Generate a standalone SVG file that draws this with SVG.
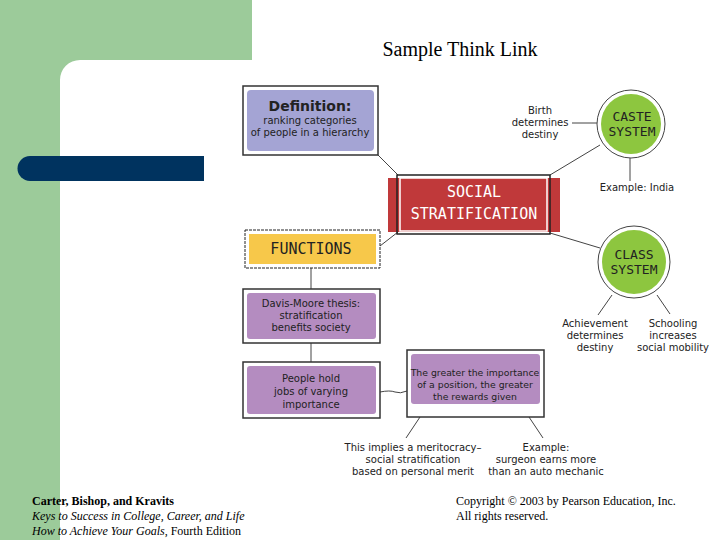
<svg xmlns="http://www.w3.org/2000/svg" width="720" height="540" viewBox="0 0 720 540">
<style>
.h{font-family:"DejaVu Sans","Noto Sans",sans-serif;fill:#222;font-size:10px;text-anchor:middle}
.t{font-family:"Liberation Serif",serif;fill:#000;font-size:12px}
.big{font-family:"DejaVu Sans Mono",monospace;text-anchor:middle;font-size:15px}
.cs{font-size:13px}
.frame{fill:#fff;stroke:#333;stroke-width:1.5}
.ln{stroke:#444;stroke-width:1;fill:none}
</style>
<rect width="720" height="540" fill="#fff"/>
<path d="M0 0H252V60H80A20 20 0 0 0 60 80V540H0Z" fill="#9ccb9a"/>
<path d="M30 156H204V181H30A12.5 12.5 0 0 1 30 156Z" fill="#00335f"/>
<text class="t" x="460" y="56" text-anchor="middle" style="font-size:20px">Sample Think Link</text>
<g id="connectors" class="ln">
<path d="M378 155L398 175"/>
<path d="M380 246L398 232"/>
<path d="M550 175L600 145"/>
<path d="M550 233L600 248"/>
<path d="M572 123H597"/>
<path d="M630 158V181"/>
<path d="M612 295L598 315"/>
<path d="M657 295L670 314"/>
<path d="M311 268V289"/>
<path d="M311 343V362"/>
<path d="M380 392Q390 390 395 392T407 391"/>
<path d="M420 417L406 438"/>
<path d="M529 417L543 438"/>
</g>
<g id="definition">
<rect class="frame" x="243" y="86" width="135" height="69"/>
<rect x="247" y="90" width="127" height="61" rx="4" fill="#a4a4d4"/>
<text class="h" x="310" y="111" style="font-size:14px;font-weight:bold">Definition:</text>
<text class="h" x="310" y="124">ranking categories</text>
<text class="h" x="310" y="136">of people in a hierarchy</text>
</g>
<g id="social">
<rect x="388" y="178" width="172" height="54" fill="#c0393a"/>
<rect x="397" y="175" width="153" height="59" fill="none" stroke="#222" stroke-width="1.5"/>
<rect x="400" y="178" width="147" height="53" fill="#c0393a" stroke="#fff" stroke-width="1.5"/>
<text class="big" x="474" y="197" fill="#fff">SOCIAL</text>
<text class="big" x="474" y="219" fill="#fff">STRATIFICATION</text>
</g>
<g id="caste">
<circle cx="631" cy="124" r="34" fill="#fff" stroke="#444"/>
<circle cx="631" cy="124" r="30" fill="#8dc63f"/>
<text class="big cs" x="632" y="121" fill="#222">CASTE</text>
<text class="big cs" x="632" y="136" fill="#222">SYSTEM</text>
<text class="h" x="540" y="114">Birth</text>
<text class="h" x="540" y="126">determines</text>
<text class="h" x="540" y="138">destiny</text>
<text class="h" x="637" y="191">Example: India</text>
</g>
<g id="class">
<circle cx="634" cy="262" r="36" fill="#fff" stroke="#444"/>
<circle cx="634" cy="262" r="32" fill="#8dc63f"/>
<text class="big cs" x="634" y="259" fill="#222">CLASS</text>
<text class="big cs" x="634" y="274" fill="#222">SYSTEM</text>
<text class="h" x="595" y="327">Achievement</text>
<text class="h" x="595" y="339">determines</text>
<text class="h" x="595" y="351">destiny</text>
<text class="h" x="673" y="327">Schooling</text>
<text class="h" x="673" y="339">increases</text>
<text class="h" x="673" y="351">social mobility</text>
</g>
<g id="functions">
<rect x="245" y="230" width="135" height="38" fill="#fff" stroke="#222" stroke-dasharray="3 1"/>
<rect x="249" y="234" width="127" height="30" fill="#f7c84a"/>
<text class="big" x="311" y="254" fill="#222">FUNCTIONS</text>
</g>
<g id="davis">
<rect class="frame" x="243" y="289" width="137" height="54"/>
<rect x="247" y="293" width="129" height="46" rx="3" fill="#b48cc0"/>
<text class="h" x="311" y="307">Davis-Moore thesis:</text>
<text class="h" x="311" y="319">stratification</text>
<text class="h" x="311" y="331">benefits society</text>
</g>
<g id="people">
<rect class="frame" x="243" y="362" width="137" height="56"/>
<rect x="247" y="366" width="129" height="48" rx="3" fill="#b48cc0"/>
<text class="h" x="311" y="382">People hold</text>
<text class="h" x="311" y="395">jobs of varying</text>
<text class="h" x="311" y="408">importance</text>
</g>
<g id="greater">
<rect class="frame" x="407" y="350" width="137" height="67"/>
<rect x="411" y="354" width="129" height="50" rx="3" fill="#b48cc0"/>
<text class="h" x="475" y="376" style="font-size:9.3px">The greater the importance</text>
<text class="h" x="475" y="388" style="font-size:9.3px">of a position, the greater</text>
<text class="h" x="475" y="400" style="font-size:9.3px">the rewards given</text>
<text class="h" x="413" y="451">This implies a meritocracy–</text>
<text class="h" x="413" y="463">social stratification</text>
<text class="h" x="413" y="475">based on personal merit</text>
<text class="h" x="546" y="451">Example:</text>
<text class="h" x="546" y="463">surgeon earns more</text>
<text class="h" x="546" y="475">than an auto mechanic</text>
</g>
<text class="t" x="32" y="505" font-weight="bold">Carter, Bishop, and Kravits</text>
<text class="t" x="32" y="520" font-style="italic">Keys to Success in College, Career, and Life</text>
<text class="t" x="32" y="535"><tspan font-style="italic">How to Achieve Your Goals</tspan>, Fourth Edition</text>
<text class="t" x="456" y="505">Copyright © 2003 by Pearson Education, Inc.</text>
<text class="t" x="456" y="520">All rights reserved.</text>
</svg>
